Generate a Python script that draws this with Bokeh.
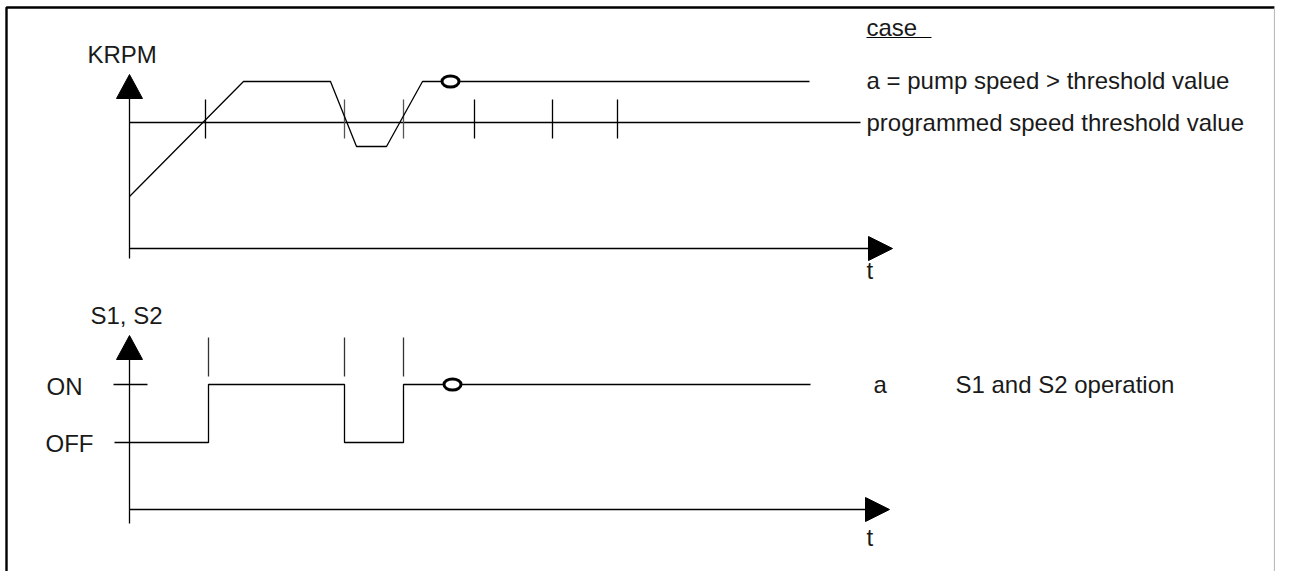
from bokeh.plotting import figure
from bokeh.models import Range1d
from bokeh.core.properties import value
from bokeh.embed import file_html
from bokeh.resources import INLINE

# ---- diagram data (diagram units = image pixels, y grows downward) ----
# upper panel: pump speed (KRPM) vs time
speed_t = [129, 243, 330, 356, 386, 422, 809]
speed_v = [196, 81, 81, 146, 146, 81, 81]
threshold_v = 122
threshold_t = [129, 860]
speed_marks_t = [205, 344, 403, 474, 552, 617]
speed_mark_gray = [False, True, True, False, False, False]
speed_marker_t = 450

# lower panel: S1, S2 switch state vs time
switch_t = [129, 208, 208, 344, 344, 403, 403, 810]
switch_state = ["OFF", "OFF", "ON", "ON", "OFF", "OFF", "ON", "ON"]
level_y = {"ON": 384, "OFF": 442}
switch_marks_t = [208, 344, 403]
switch_marker_t = 452

# labels
top_right_labels = ["case", "a = pump speed > threshold value", "programmed speed threshold value"]
bottom_right_labels = ["a", "S1 and S2 operation"]

FONT = value("Liberation Sans")
FS = "24px"
TXT = "#1a1a1a"

W, H = 1275, 571
p = figure(width=W, height=H, x_range=Range1d(0, W), y_range=Range1d(H, 0),
           toolbar_location=None, output_backend="svg", min_border=0)
p.axis.visible = False
p.grid.visible = False
p.outline_line_color = None
p.background_fill_color = "white"

# frame (left, top, right)
p.line([6, 6, W - 1], [H, 7, 7], line_color="black", line_width=2.4)
p.line([W - 1, W - 1], [7, H], line_color="#bbbbbb", line_width=1.2)

def axes(ox, y_top, y_bottom, y_axis, x_end, arrow_len=24, half=12):
    # vertical axis
    p.line([ox, ox], [y_top + arrow_len, y_bottom], line_color="black", line_width=1.3)
    p.patch([ox, ox - 13, ox + 13], [y_top, y_top + arrow_len, y_top + arrow_len], color="black")
    # horizontal axis
    p.line([ox, x_end - arrow_len], [y_axis, y_axis], line_color="black", line_width=1.3)
    p.patch([x_end, x_end - arrow_len, x_end - arrow_len], [y_axis, y_axis - half, y_axis + half], color="black")

# ---------- upper panel ----------
axes(129, 74, 258, 248, 892)
p.line(threshold_t, [threshold_v] * 2, line_color="black", line_width=1.3)
for t, g in zip(speed_marks_t, speed_mark_gray):
    p.line([t, t], [threshold_v - 23, threshold_v + 16], line_color="#555555" if g else "black", line_width=1.3)
p.line(speed_t, speed_v, line_color="black", line_width=1.3)
p.ellipse(x=[speed_marker_t], y=[speed_v[-1]], width=17, height=11, fill_color="white",
          line_color="black", line_width=3)

p.text(x=[87], y=[54], text=["KRPM"], text_font=FONT, text_font_size=FS,
       text_baseline="middle", text_color=TXT)
p.text(x=[866], y=[270], text=["t"], text_font=FONT, text_font_size=FS,
       text_baseline="middle", text_color=TXT)
p.text(x=[866, 866, 866], y=[27, 80, 122], text=top_right_labels, text_font=FONT,
       text_font_size=FS, text_baseline="middle", text_color=TXT)
p.line([866, 931], [37, 37], line_color="black", line_width=1.2)

# ---------- lower panel ----------
axes(129, 335, 523, 509, 889)
sw_y = [level_y[s] for s in switch_state]
p.line(switch_t, sw_y, line_color="black", line_width=1.3)
p.line([113, 147], [level_y["ON"]] * 2, line_color="black", line_width=1.3)
p.line([114, 129], [level_y["OFF"]] * 2, line_color="black", line_width=1.3)
for t in switch_marks_t:
    p.line([t, t], [337, 376], line_color="#333333", line_width=1.3)
p.ellipse(x=[switch_marker_t], y=[level_y["ON"]], width=17, height=11, fill_color="white",
          line_color="black", line_width=3)

p.text(x=[90], y=[315], text=["S1, S2"], text_font=FONT, text_font_size=FS,
       text_baseline="middle", text_color=TXT)
p.text(x=[46, 45], y=[386, 443], text=["ON", "OFF"], text_font=FONT, text_font_size=FS,
       text_baseline="middle", text_color=TXT)
p.text(x=[866], y=[537], text=["t"], text_font=FONT, text_font_size=FS,
       text_baseline="middle", text_color=TXT)
p.text(x=[873, 955], y=[level_y["ON"]] * 2, text=bottom_right_labels, text_font=FONT,
       text_font_size=FS, text_baseline="middle", text_color=TXT)

open("out.html", "w").write(file_html(p, INLINE))
